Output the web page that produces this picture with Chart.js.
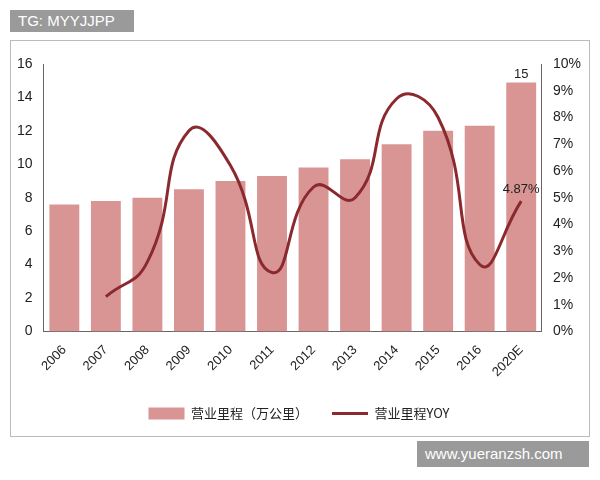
<!DOCTYPE html>
<html><head><meta charset="utf-8">
<script src="https://cdn.jsdelivr.net/npm/chart.js@4"></script>
<style>
body{margin:0;background:#fff;width:600px;height:480px;position:relative;font-family:"Noto Sans CJK SC",sans-serif}
#frame{position:absolute;left:10px;top:40px;width:580px;height:397px;border:1px solid #bbb;box-sizing:border-box}
#wrap{position:absolute;left:10px;top:44px;width:580px;height:390px}
.wm{position:absolute;background:#9a9a9a;color:#fff;font-family:"Liberation Sans",sans-serif;font-size:15px}
</style></head><body>
<div id="frame"></div>
<div id="wrap"><canvas id="c"></canvas></div>
<div class="wm" style="left:10px;top:10px;width:108px;height:22px;line-height:22px;padding:0 8px">TG: MYYJJPP</div>
<div class="wm" style="left:417px;top:441px;width:156px;height:26px;line-height:26px;padding:0 8px">www.yueranzsh.com</div>
<script>
const categories=["2006","2007","2008","2009","2010","2011","2012","2013","2014","2015","2016","2020E"];
const mileage=[7.6,7.8,8.0,8.5,9.0,9.3,9.8,10.3,11.2,12.0,12.3,14.9];
const yoy=[null,1.3,2.6,7.5,6.2,2.2,5.4,5.0,8.7,8.0,2.5,4.87];
const labelPlugin={id:'lbl',afterDatasetsDraw(ch){const ctx=ch.ctx;ctx.save();ctx.fillStyle='#222';ctx.font='13px "Liberation Sans"';ctx.textAlign='center';
const b=ch.getDatasetMeta(0).data[11];ctx.fillText('15',b.x,b.y-8);
const p=ch.getDatasetMeta(1).data[11];ctx.fillText('4.87%',p.x,p.y-12);ctx.restore();}};
new Chart(document.getElementById('c'),{
data:{labels:categories,datasets:[
{type:'bar',label:'营业里程（万公里）',data:mileage,backgroundColor:'#d99594',yAxisID:'y',categoryPercentage:0.8,barPercentage:0.9,order:2,pointStyle:'rect'},
{type:'line',label:'营业里程YOY',data:yoy,borderColor:'#8b2a2e',backgroundColor:'#8b2a2e',borderWidth:3,pointRadius:0,tension:0.5,yAxisID:'y1',order:1,pointStyle:'line'}
]},
options:{responsive:true,maintainAspectRatio:false,animation:false,
layout:{padding:{left:4,right:6,top:20,bottom:4}},
plugins:{legend:{position:'bottom',labels:{sort:(a,b)=>a.datasetIndex-b.datasetIndex,usePointStyle:true,pointStyleWidth:36,font:{size:13,family:'"Noto Sans CJK SC"'},color:'#222',boxHeight:12,padding:24}},tooltip:{enabled:false}},
scales:{
x:{grid:{display:false},border:{color:'#666'},ticks:{maxRotation:45,minRotation:45,color:'#222',font:{size:13,family:'"Liberation Sans"'}}},
y:{min:0,max:16,ticks:{stepSize:2,color:'#222',font:{size:14,family:'"Liberation Sans"'}},grid:{display:false},border:{color:'#666'}},
y1:{position:'right',min:0,max:10,ticks:{stepSize:1,callback:v=>v+'%',color:'#222',font:{size:14,family:'"Liberation Sans"'}},grid:{display:false},border:{color:'#666'}}
}},plugins:[labelPlugin]});
</script></body></html>
